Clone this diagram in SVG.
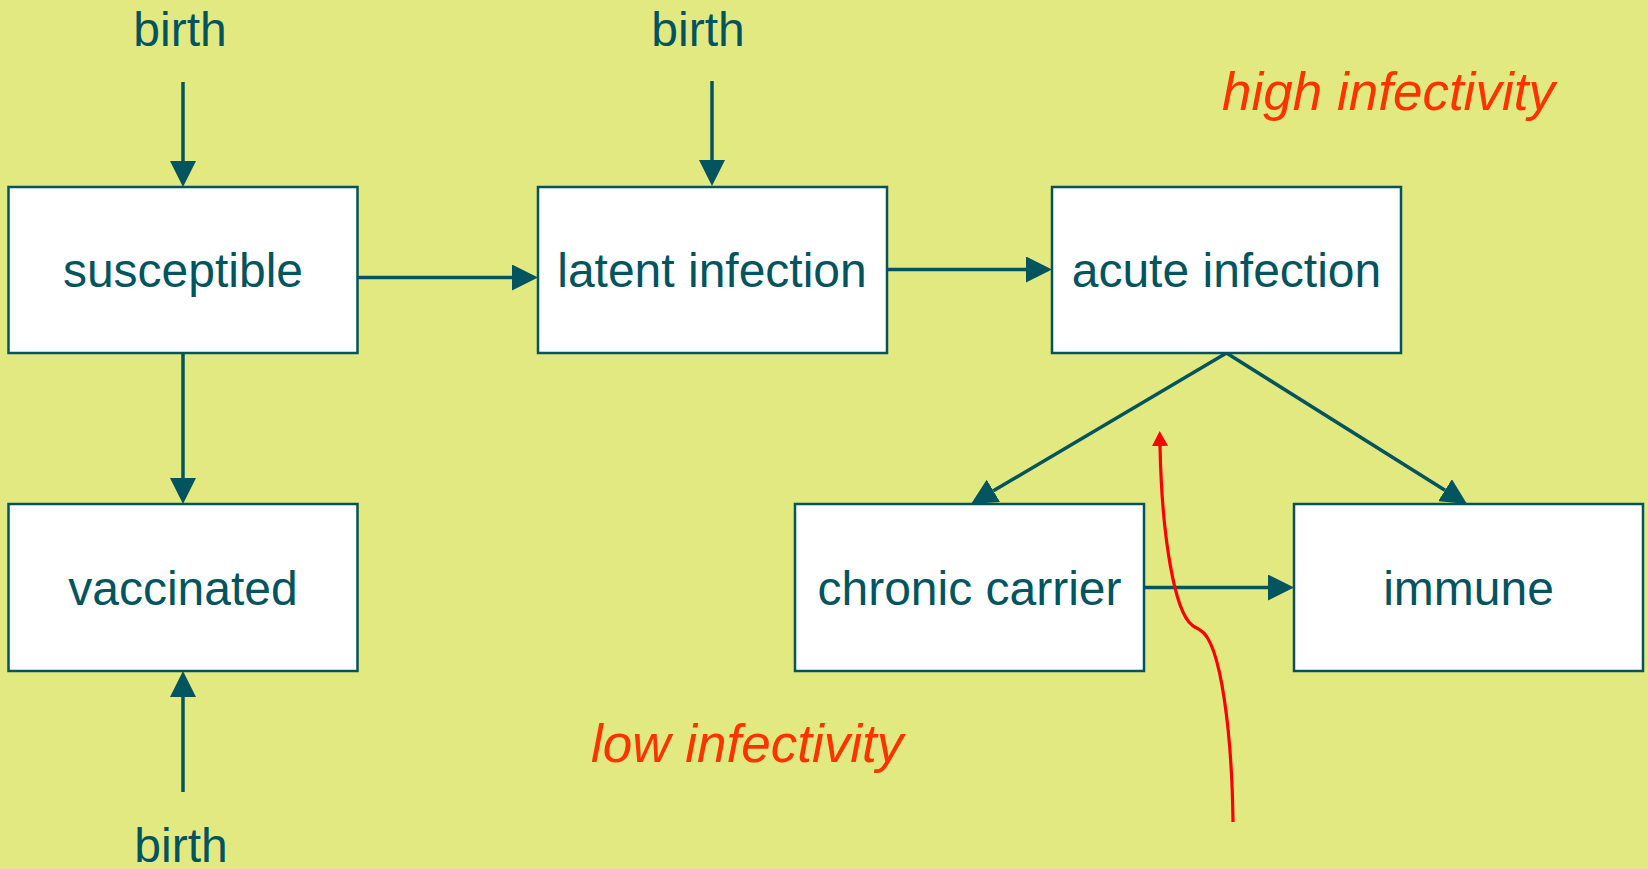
<svg xmlns="http://www.w3.org/2000/svg" width="1648" height="869" viewBox="0 0 1648 869">
<defs>
<marker id="ah" markerUnits="userSpaceOnUse" markerWidth="26" markerHeight="26" viewBox="0 0 26 26" refX="0" refY="13" orient="auto">
<path d="M0,0 L26,13 L0,26 z" fill="#02555f"/>
</marker>
<marker id="rah" markerUnits="userSpaceOnUse" markerWidth="15" markerHeight="16" viewBox="0 0 15 16" refX="0" refY="8" orient="auto">
<path d="M0,0 L15,8 L0,16 z" fill="#ff0000"/>
</marker>
<style>
.box{fill:#ffffff;stroke:#02555f;stroke-width:2.5}
.lbl{font-family:"Liberation Sans",Arial,sans-serif;font-size:48px;fill:#02555f;text-anchor:middle}
.red{font-family:"Liberation Sans",Arial,sans-serif;font-size:53px;font-style:italic;fill:#ff3300}
.c{stroke:#02555f;stroke-width:3.5;fill:none;marker-end:url(#ah)}
</style>
</defs>
<rect width="1648" height="869" fill="#e3e981"/>
<g id="connectors">
<line class="c" x1="183" y1="82" x2="183" y2="161"/>
<line class="c" x1="712" y1="81" x2="712" y2="160"/>
<line class="c" x1="357" y1="277.5" x2="512" y2="277.5"/>
<line class="c" x1="887" y1="269.5" x2="1026" y2="269.5"/>
<line class="c" x1="183" y1="353" x2="183" y2="478"/>
<line class="c" x1="183" y1="792" x2="183" y2="697"/>
<line class="c" x1="1144" y1="587.5" x2="1268" y2="587.5"/>
<line class="c" x1="1226.5" y1="353" x2="993.4" y2="490.8"/>
<line class="c" x1="1226.5" y1="353" x2="1445" y2="490.2"/>
<path d="M1233,822 C1232,740 1222,642 1200,630 C1197,628 1194,627 1192,625 C1175,612 1162,540 1160,446" stroke="#ff0000" stroke-width="3.2" fill="none" marker-end="url(#rah)"/>
</g>
<g id="birth-top-left"><text class="lbl" x="180" y="46">birth</text></g>
<g id="birth-top-middle"><text class="lbl" x="698" y="46">birth</text></g>
<g id="birth-bottom"><text class="lbl" x="181" y="862">birth</text></g>
<g id="susceptible"><rect class="box" x="8.5" y="187" width="349" height="166"/><text class="lbl" x="183" y="287">susceptible</text></g>
<g id="latent"><rect class="box" x="538" y="187" width="349" height="166"/><text class="lbl" x="712" y="287">latent infection</text></g>
<g id="acute"><rect class="box" x="1052" y="187" width="349" height="166"/><text class="lbl" x="1226.5" y="287">acute infection</text></g>
<g id="vaccinated"><rect class="box" x="8.5" y="504" width="349" height="167"/><text class="lbl" x="183" y="605">vaccinated</text></g>
<g id="chronic"><rect class="box" x="795" y="504" width="349" height="167"/><text class="lbl" x="969.5" y="605">chronic carrier</text></g>
<g id="immune"><rect class="box" x="1294" y="504" width="349" height="167"/><text class="lbl" x="1468.5" y="605">immune</text></g>
<g id="high-infectivity"><text class="red" x="1222" y="110">high infectivity</text></g>
<g id="low-infectivity"><text class="red" x="591" y="762">low infectivity</text></g>
</svg>
